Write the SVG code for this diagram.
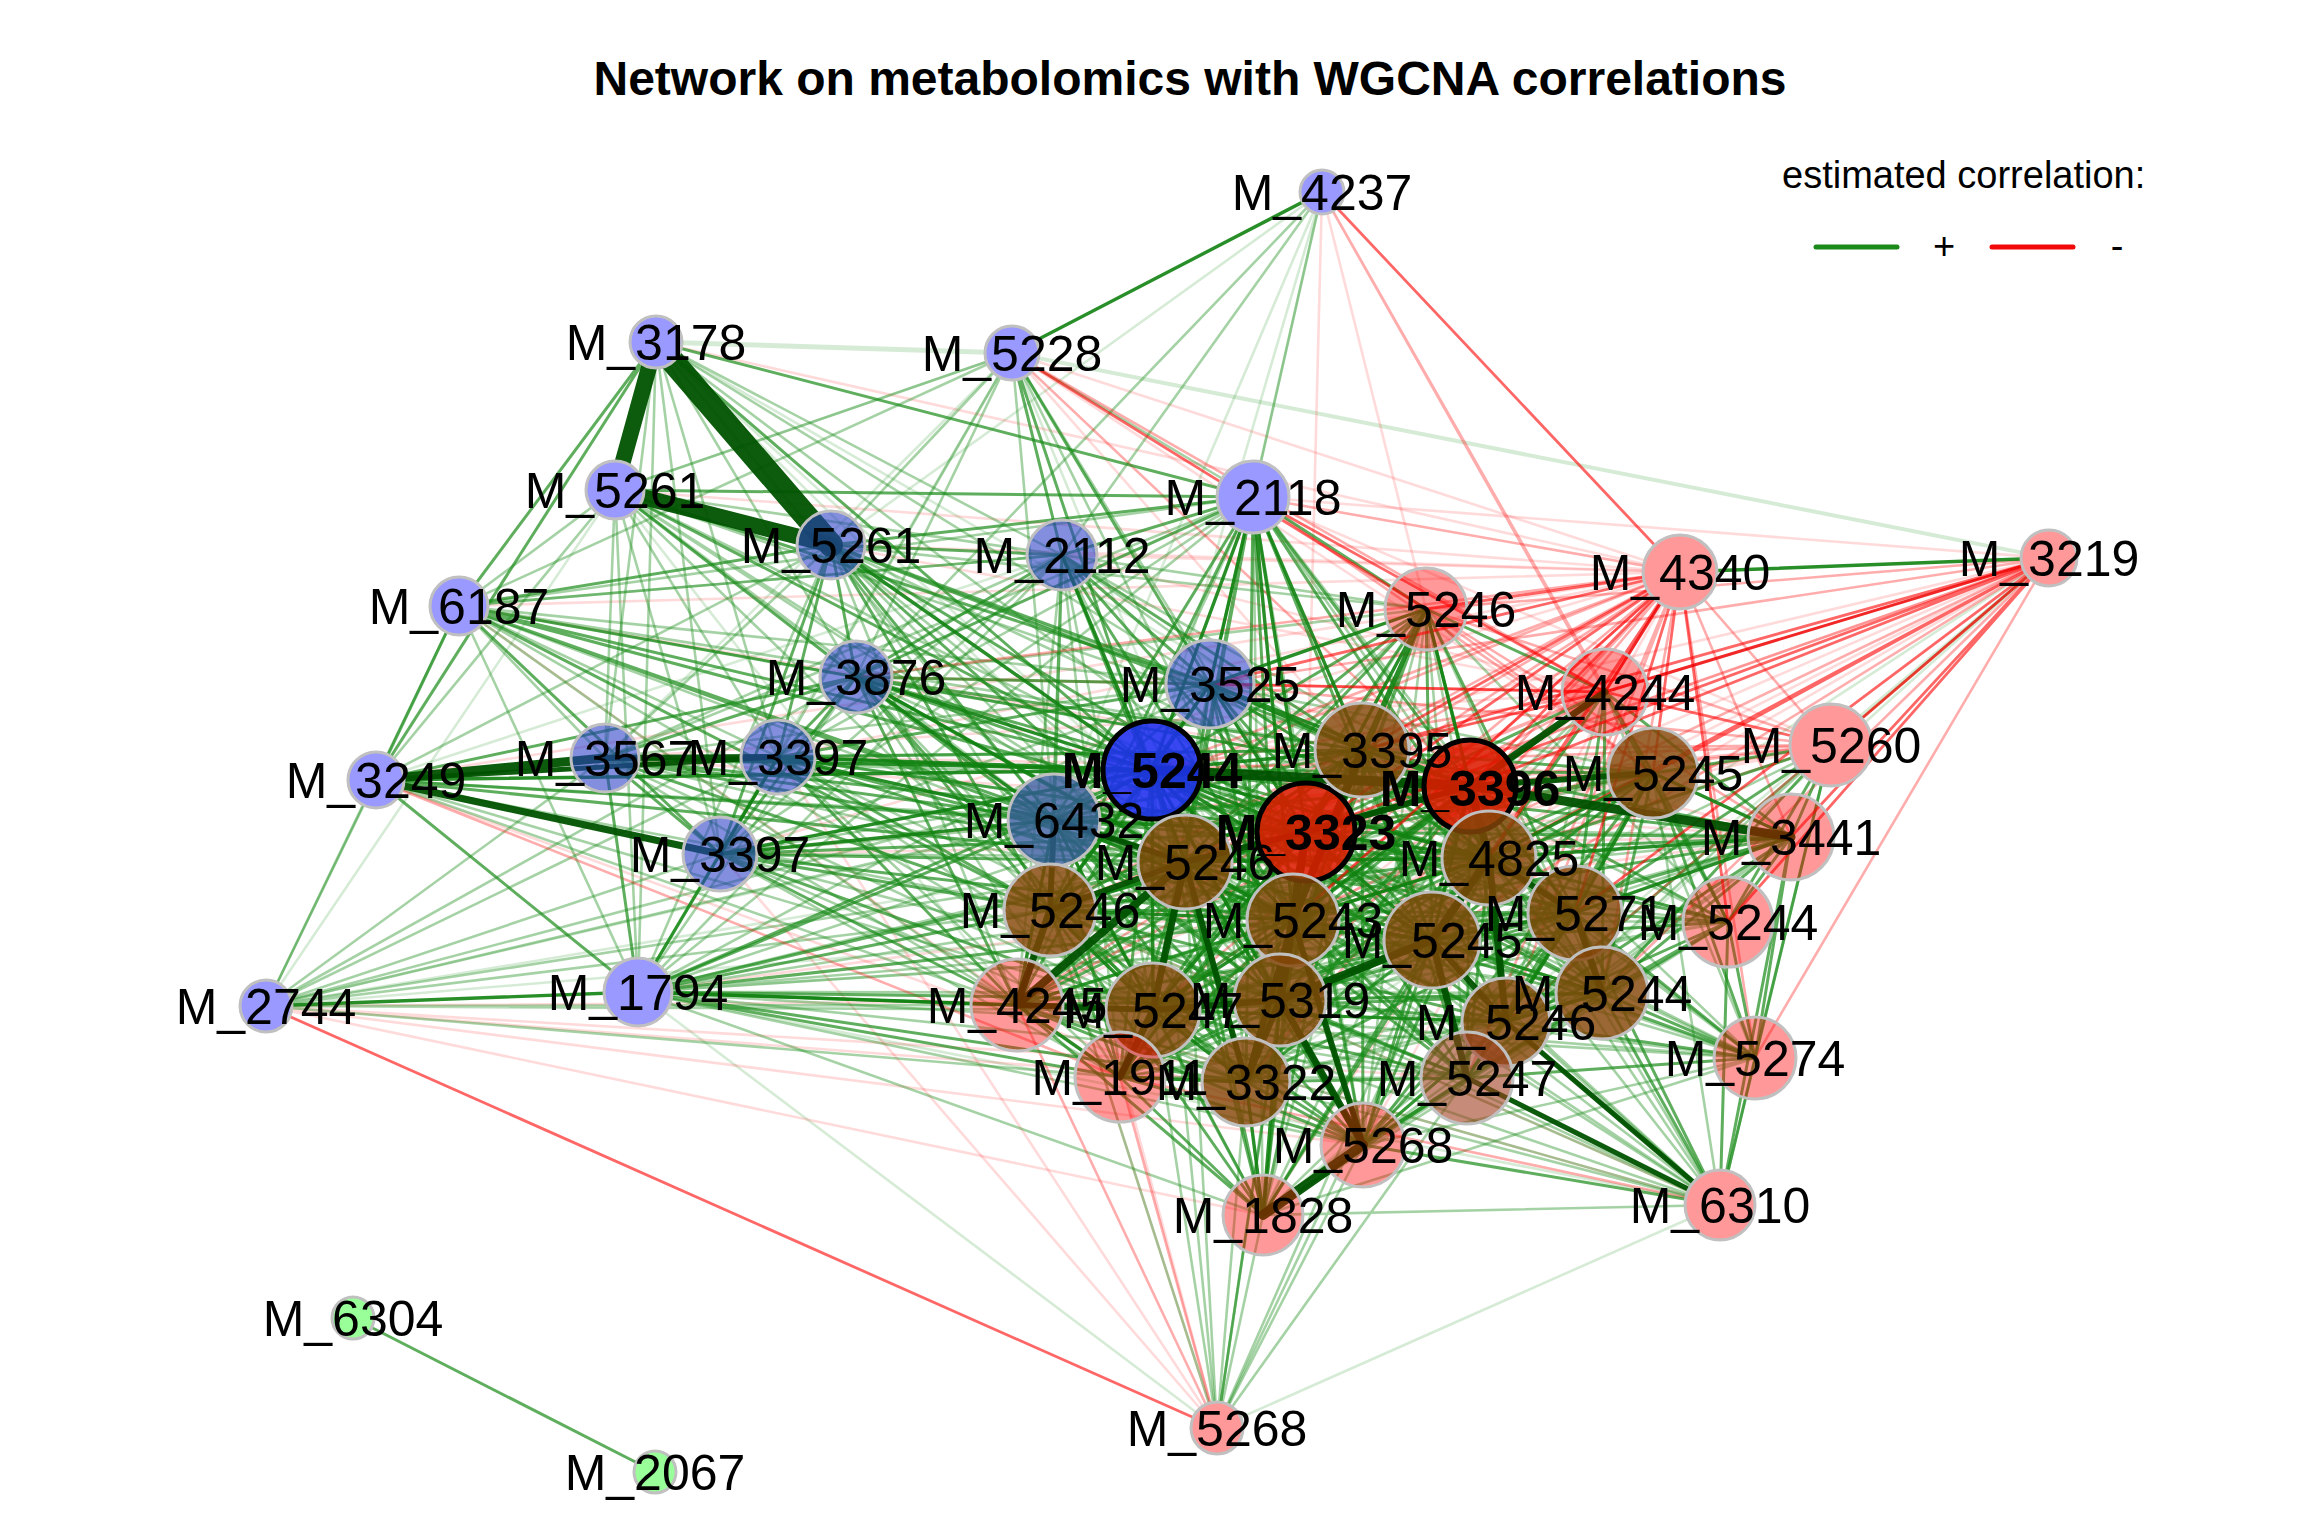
<svg xmlns="http://www.w3.org/2000/svg" width="2304" height="1536" viewBox="0 0 2304 1536">
<style>
text{font-family:"Liberation Sans",Arial,Helvetica,sans-serif;fill:#000}
.lb{font-size:50px;text-anchor:middle}
.bd{font-weight:bold}
#connectors path,#connectors line{fill:none;stroke-linecap:round}
.g1{stroke:#1e8f1e;stroke-opacity:.18;stroke-width:2.6}
.g2{stroke:#1e8f1e;stroke-opacity:.4;stroke-width:2.6}
.g3{stroke:#1a8c1a;stroke-opacity:.7;stroke-width:3}
.g4{stroke:#118211;stroke-opacity:.9;stroke-width:3.4}
.gt{stroke:#005200;stroke-opacity:.95}
.r1{stroke:#ff1a1a;stroke-opacity:.16;stroke-width:2.6}
.r2{stroke:#ff1a1a;stroke-opacity:.36;stroke-width:2.6}
.r3{stroke:#ff0000;stroke-opacity:.6;stroke-width:2.8}
.r4{stroke:#ee0000;stroke-opacity:.85;stroke-width:3}
.nbo{fill:#9999ff;stroke:#c0c0c0;stroke-width:3}
.npo{fill:#ff9999;stroke:#c0c0c0;stroke-width:3}
.ngo{fill:#99ff99;stroke:#c0c0c0;stroke-width:3}
.nm{fill:#2a3cc8;fill-opacity:.58;stroke:#c0c0c0;stroke-width:3}
.ns{fill:#34589c;fill-opacity:.78;stroke:#c0c0c0;stroke-width:3}
.nB{fill:#1e2ef0;fill-opacity:.88;stroke:#000;stroke-width:5}
.np{fill:#ff0000;fill-opacity:.4;stroke:#c0c0c0;stroke-width:3}
.nx{fill:#a0401f;fill-opacity:.6;stroke:#c0c0c0;stroke-width:3}
.nr{fill:#844508;fill-opacity:.82;stroke:#c0c0c0;stroke-width:3}
.nR{fill:#dd1a00;fill-opacity:.88;stroke:#000;stroke-width:5}
</style>
<rect width="2304" height="1536" fill="#fff"/>
<text x="1190" y="95" font-size="48" font-weight="bold" text-anchor="middle">Network on metabolomics with WGCNA correlations</text>
<g id="connectors">
<path class="g1" d="M1322 192L831 545M1322 192L1210 684M1322 192L1054 820M1322 192L1152 770"/>
<path class="g1" d="M656 342L1362 750M656 342L1185 862M656 342L1293 920"/>
<path class="g1" d="M1012 353L605 758M1012 353L638 992M1012 353L1280 1000"/>
<path class="g1" d="M615 490L266 1006M615 490L1280 1000M615 490L1017 1005M615 490L1012 353"/>
<path class="g1" d="M1062 555L376 780"/>
<path class="g1" d="M266 1006L1306 832M266 1006L1293 920M266 1006L1362 750"/>
<path class="g1" d="M638 992L1728 922M638 992L1720 1205M638 992L1217 1428"/>
<path class="g1" d="M2049 558L1263 1215M2049 558L1246 1082M2049 558L1467 1078"/>
<path class="g1" d="M1720 1205L1217 1428"/>
<path class="g1" style="stroke-width:5" d="M656 342L1012 353"/>
<path class="g1" style="stroke-width:4" d="M1012 353L2049 558"/>
<path class="r1" d="M1322 192L1306 832M1322 192L1426 609"/>
<path class="r1" d="M656 342L1680 572"/>
<path class="r1" d="M1012 353L1653 773M1012 353L1680 572M1012 353L1362 750"/>
<path class="r1" d="M615 490L1680 572"/>
<path class="r1" d="M831 545L1680 572M831 545L1605 692"/>
<path class="r1" d="M1253 497L1831 745M1253 497L2049 558"/>
<path class="r1" d="M1062 555L1680 572M1062 555L1605 692"/>
<path class="r1" d="M459 606L1680 572M459 606L1791 837M459 606L1120 1077"/>
<path class="r1" d="M1210 684L1791 837"/>
<path class="r1" d="M605 758L1605 692M605 758L1791 837"/>
<path class="r1" d="M778 757L1680 572M778 757L1653 773"/>
<path class="r1" d="M376 780L1363 1145M376 780L1680 572"/>
<path class="r1" d="M720 854L1680 572M720 854L1791 837M720 854L1831 745"/>
<path class="r1" d="M1152 770L2049 558"/>
<path class="r1" d="M1054 820L1605 692M1054 820L1831 745"/>
<path class="r1" d="M266 1006L1246 1082M266 1006L1263 1215M266 1006L1363 1145M266 1006L1280 1000M266 1006L1467 1078"/>
<path class="r1" d="M638 992L1791 837"/>
<path class="r1" d="M1680 572L1363 1145M1680 572L1263 1215"/>
<path class="r1" d="M2049 558L1050 910M2049 558L1017 1005M2049 558L1280 1000M2049 558L1153 1010"/>
<path class="r1" d="M1831 745L1185 862M1831 745L1050 910"/>
<path class="r1" d="M1605 692L1120 1077"/>
<path class="r1" d="M1217 1428L720 854M1217 1428L778 757M1217 1428L1050 910M1217 1428L1054 820"/>
<path class="r1" d="M1720 1205L1050 910M1720 1205L1017 1005"/>
<path class="g2" d="M1322 192L1062 555M1322 192L856 677M1322 192L1253 497"/>
<path class="g2" d="M656 342L856 677M656 342L1062 555M656 342L1210 684M656 342L1054 820M656 342L605 758M656 342L778 757M656 342L720 854M656 342L638 992M656 342L1306 832"/>
<path class="g2" d="M1012 353L856 677M1012 353L831 545M1012 353L615 490M1012 353L459 606M1012 353L1054 820M1012 353L778 757M1012 353L1253 497M1012 353L1306 832M1012 353L1293 920"/>
<path class="g2" d="M615 490L459 606M615 490L376 780M615 490L1062 555M615 490L1054 820M615 490L605 758M615 490L778 757M615 490L720 854M615 490L638 992M615 490L1362 750M615 490L1306 832M615 490L1185 862M615 490L1293 920M615 490L1050 910"/>
<path class="g2" d="M831 545L376 780M831 545L605 758M831 545L638 992M831 545L1293 920M831 545L1470 786M831 545L1426 609M831 545L1489 858M831 545L1153 1010M831 545L1280 1000M831 545L1017 1005"/>
<path class="g2" d="M1253 497L1017 1005M1253 497L1120 1077M1253 497L1363 1145M1253 497L1263 1215M1253 497L1575 913M1253 497L1602 993M1253 497L778 757M1253 497L720 854M1253 497L605 758M1253 497L638 992M1253 497L459 606"/>
<path class="g2" d="M1062 555L778 757M1062 555L720 854M1062 555L605 758M1062 555L459 606M1062 555L638 992M1062 555L1470 786M1062 555L1426 609M1062 555L1153 1010M1062 555L1280 1000M1062 555L1017 1005M1062 555L1120 1077M1062 555L1489 858"/>
<path class="g2" d="M459 606L605 758M459 606L778 757M459 606L638 992M459 606L266 1006M459 606L1210 684M459 606L1017 1005M459 606L1293 920M459 606L1153 1010M459 606L1362 750M459 606L1470 786M459 606L1062 555"/>
<path class="g2" d="M856 677L638 992M856 677L1432 940M856 677L1120 1077M856 677L1246 1082M856 677L1426 609M856 677L266 1006"/>
<path class="g2" d="M1210 684L1575 913M1210 684L1653 773M1210 684L1153 1010M1210 684L1602 993M1210 684L1246 1082M1210 684L1363 1145M1210 684L605 758M1210 684L720 854M1210 684L638 992"/>
<path class="g2" d="M605 758L266 1006M605 758L1293 920M605 758L1470 786M605 758L1017 1005M605 758L1153 1010M605 758L1362 750"/>
<path class="g2" d="M778 757L266 1006M778 757L1153 1010M778 757L1280 1000M778 757L1489 858M778 757L1120 1077"/>
<path class="g2" d="M376 780L266 1006M376 780L1050 910M376 780L1306 832M376 780L1017 1005M376 780L1153 1010"/>
<path class="g2" d="M720 854L266 1006M720 854L1280 1000M720 854L1470 786M720 854L1362 750M720 854L1489 858M720 854L1120 1077M720 854L1246 1082"/>
<path class="g2" d="M1152 770L1728 922M1152 770L1755 1058M1152 770L1720 1205M1152 770L1217 1428M1152 770L266 1006"/>
<path class="g2" d="M1054 820L1263 1215M1054 820L1575 913M1054 820L1602 993M1054 820L1653 773M1054 820L1791 837M1054 820L266 1006"/>
<path class="g2" d="M266 1006L1050 910M266 1006L1017 1005M266 1006L1185 862M266 1006L1153 1010M266 1006L1120 1077"/>
<path class="g2" d="M638 992L1362 750M638 992L1470 786M638 992L1489 858M638 992L1432 940M638 992L1506 1022M638 992L1467 1078M638 992L1363 1145M638 992L1263 1215M638 992L1602 993M638 992L1575 913M638 992L1755 1058"/>
<path class="g2" d="M2049 558L1363 1145"/>
<path class="g2" d="M1831 745L1506 1022M1831 745L1432 940M1831 745L1720 1205M1831 745L1467 1078M1831 745L1363 1145"/>
<path class="g2" d="M1605 692L1280 1000M1605 692L1506 1022M1605 692L1755 1058M1605 692L1246 1082"/>
<path class="g2" d="M1426 609L1017 1005M1426 609L1120 1077M1426 609L1467 1078M1426 609L1363 1145M1426 609L1263 1215M1426 609L1728 922M1426 609L1602 993M1426 609L1506 1022"/>
<path class="g2" d="M1362 750L1728 922M1362 750L1755 1058M1362 750L1720 1205"/>
<path class="g2" d="M1470 786L1755 1058M1470 786L1720 1205M1470 786L1263 1215"/>
<path class="g2" d="M1653 773L1050 910M1653 773L1153 1010M1653 773L1720 1205M1653 773L1246 1082"/>
<path class="g2" d="M1306 832L1755 1058M1306 832L1720 1205M1306 832L1217 1428"/>
<path class="g2" d="M1791 837L1467 1078M1791 837L1363 1145M1791 837L1153 1010M1791 837L1050 910M1791 837L1280 1000"/>
<path class="g2" d="M1489 858L1755 1058M1489 858L1720 1205M1489 858L1217 1428"/>
<path class="g2" d="M1185 862L1728 922M1185 862L1755 1058M1185 862L1720 1205M1185 862L1217 1428"/>
<path class="g2" d="M1050 910L1602 993M1050 910L1217 1428M1050 910L1720 1205"/>
<path class="g2" d="M1293 920L1728 922M1293 920L1755 1058M1293 920L1720 1205M1293 920L1217 1428"/>
<path class="g2" d="M1432 940L1720 1205M1432 940L1217 1428"/>
<path class="g2" d="M1575 913L1120 1077M1575 913L1263 1215M1575 913L1017 1005"/>
<path class="g2" d="M1728 922L1363 1145M1728 922L1280 1000M1728 922L1153 1010M1728 922L1263 1215"/>
<path class="g2" d="M1017 1005L1602 993M1017 1005L1467 1078M1017 1005L1720 1205"/>
<path class="g2" d="M1153 1010L1720 1205M1153 1010L1755 1058M1153 1010L1217 1428"/>
<path class="g2" d="M1280 1000L1720 1205M1280 1000L1755 1058M1280 1000L1217 1428"/>
<path class="g2" d="M1602 993L1263 1215M1602 993L1120 1077M1602 993L1246 1082"/>
<path class="g2" d="M1506 1022L1263 1215M1506 1022L1246 1082M1506 1022L1120 1077"/>
<path class="g2" d="M1755 1058L1363 1145M1755 1058L1263 1215"/>
<path class="g2" d="M1120 1077L1467 1078M1246 1082L1720 1205M1246 1082L1217 1428M1467 1078L1217 1428M1363 1145L1217 1428M1263 1215L1720 1205M1263 1215L1217 1428"/>
<path class="r2" d="M1322 192L1605 692M1322 192L1653 773"/>
<path class="r2" d="M1012 353L1605 692M1012 353L1470 786"/>
<path class="r2" d="M1253 497L1680 572M1253 497L1653 773"/>
<path class="r2" d="M856 677L1680 572M856 677L1605 692"/>
<path class="r2" d="M1210 684L1831 745M1210 684L2049 558"/>
<path class="r2" d="M376 780L1120 1077"/>
<path class="r2" d="M1152 770L1680 572M1152 770L1605 692M1152 770L1831 745"/>
<path class="r2" d="M1054 820L1680 572"/>
<path class="r2" d="M1680 572L1791 837M1680 572L1831 745M1680 572L1185 862M1680 572L1050 910M1680 572L1017 1005M1680 572L1153 1010M1680 572L1280 1000M1680 572L1602 993M1680 572L1506 1022M1680 572L1755 1058M1680 572L1120 1077M1680 572L1246 1082M1680 572L1467 1078"/>
<path class="r2" d="M2049 558L1426 609M2049 558L1293 920M2049 558L1432 940M2049 558L1185 862M2049 558L1602 993M2049 558L1506 1022M2049 558L1755 1058"/>
<path class="r2" d="M1831 745L1426 609M1831 745L1362 750M1831 745L1470 786M1831 745L1306 832M1831 745L1293 920"/>
<path class="r2" d="M1605 692L1185 862M1605 692L1050 910M1605 692L1153 1010M1605 692L1017 1005"/>
<path class="r2" d="M1426 609L1653 773M1426 609L1791 837"/>
<path class="r2" d="M1217 1428L1017 1005M1217 1428L1120 1077M1720 1205L1120 1077"/>
<path class="g3" d="M656 342L1253 497M656 342L459 606M656 342L376 780M656 342L1152 770"/>
<path class="g3" d="M1012 353L1062 555M1012 353L1210 684M1012 353L1152 770"/>
<path class="g3" d="M615 490L1253 497M615 490L856 677M615 490L1210 684M615 490L1152 770"/>
<path class="g3" d="M831 545L1062 555M831 545L1253 497M831 545L459 606M831 545L856 677M831 545L1210 684M831 545L1054 820M831 545L778 757M831 545L720 854M831 545L1362 750M831 545L1306 832M831 545L1185 862M831 545L1050 910"/>
<path class="g3" d="M1253 497L1062 555M1253 497L1054 820M1253 497L856 677M1253 497L1426 609M1253 497L1470 786M1253 497L1489 858M1253 497L1185 862M1253 497L1050 910M1253 497L1432 940M1253 497L1153 1010M1253 497L1280 1000M1253 497L1246 1082"/>
<path class="g3" d="M1062 555L856 677M1062 555L1210 684M1062 555L1054 820M1062 555L1362 750M1062 555L1306 832M1062 555L1185 862M1062 555L1050 910M1062 555L1293 920"/>
<path class="g3" d="M459 606L376 780M459 606L720 854M459 606L856 677M459 606L1152 770M459 606L1054 820M459 606L1185 862M459 606L1050 910M459 606L1306 832"/>
<path class="g3" d="M856 677L778 757M856 677L605 758M856 677L720 854M856 677L376 780M856 677L1210 684M856 677L1050 910M856 677L1306 832M856 677L1293 920M856 677L1362 750M856 677L1470 786M856 677L1489 858M856 677L1153 1010M856 677L1017 1005M856 677L1280 1000"/>
<path class="g3" d="M1210 684L1054 820M1210 684L1489 858M1210 684L1185 862M1210 684L1293 920M1210 684L1432 940M1210 684L1050 910M1210 684L1280 1000M1210 684L778 757"/>
<path class="g3" d="M605 758L720 854M605 758L638 992M605 758L1054 820M605 758L1185 862M605 758L1050 910M605 758L1306 832"/>
<path class="g3" d="M778 757L638 992M778 757L1185 862M778 757L1050 910M778 757L1306 832M778 757L1293 920M778 757L1362 750M778 757L1470 786M778 757L1017 1005"/>
<path class="g3" d="M376 780L1054 820M376 780L638 992M376 780L1185 862"/>
<path class="g3" d="M720 854L638 992M720 854L1185 862M720 854L1050 910M720 854L1306 832M720 854L1293 920M720 854L1017 1005M720 854L1153 1010"/>
<path class="g3" d="M1152 770L1575 913M1152 770L1017 1005M1152 770L1120 1077M1152 770L1246 1082M1152 770L1467 1078M1152 770L1363 1145M1152 770L1263 1215M1152 770L1602 993M1152 770L1506 1022M1152 770L1653 773M1152 770L1791 837M1152 770L1426 609M1152 770L638 992"/>
<path class="g3" d="M1054 820L1362 750M1054 820L1470 786M1054 820L1489 858M1054 820L1432 940M1054 820L1280 1000M1054 820L1120 1077M1054 820L1246 1082M1054 820L1363 1145M1054 820L638 992"/>
<path class="g3" d="M638 992L1050 910M638 992L1185 862M638 992L1153 1010M638 992L1120 1077M638 992L1306 832M638 992L1293 920M638 992L1280 1000M638 992L1246 1082"/>
<path class="g3" d="M353 1318L655 1472"/>
<path class="g3" d="M1831 745L1489 858M1831 745L1653 773M1831 745L1791 837M1831 745L1575 913M1831 745L1728 922M1831 745L1602 993M1831 745L1755 1058"/>
<path class="g3" d="M1605 692L1426 609M1605 692L1653 773M1605 692L1489 858M1605 692L1306 832M1605 692L1293 920M1605 692L1432 940M1605 692L1575 913M1605 692L1728 922M1605 692L1791 837M1605 692L1602 993"/>
<path class="g3" d="M1426 609L1489 858M1426 609L1185 862M1426 609L1432 940M1426 609L1575 913M1426 609L1050 910M1426 609L1153 1010M1426 609L1280 1000M1426 609L1246 1082"/>
<path class="g3" d="M1362 750L1432 940M1362 750L1575 913M1362 750L1153 1010M1362 750L1246 1082M1362 750L1363 1145M1362 750L1263 1215M1362 750L1050 910M1362 750L1017 1005M1362 750L1120 1077M1362 750L1602 993M1362 750L1506 1022M1362 750L1467 1078M1362 750L1653 773M1362 750L1791 837"/>
<path class="g3" d="M1470 786L1602 993M1470 786L1506 1022M1470 786L1728 922M1470 786L1280 1000M1470 786L1153 1010M1470 786L1050 910M1470 786L1246 1082M1470 786L1467 1078M1470 786L1363 1145M1470 786L1017 1005M1470 786L1120 1077"/>
<path class="g3" d="M1653 773L1306 832M1653 773L1293 920M1653 773L1432 940M1653 773L1602 993M1653 773L1506 1022M1653 773L1728 922M1653 773L1185 862M1653 773L1280 1000M1653 773L1755 1058M1653 773L1467 1078M1653 773L1363 1145"/>
<path class="g3" d="M1306 832L1575 913M1306 832L1246 1082M1306 832L1120 1077M1306 832L1017 1005M1306 832L1363 1145M1306 832L1263 1215M1306 832L1506 1022M1306 832L1602 993M1306 832L1467 1078M1306 832L1728 922M1306 832L1791 837"/>
<path class="g3" d="M1791 837L1728 922M1791 837L1602 993M1791 837L1432 940M1791 837L1293 920M1791 837L1506 1022M1791 837L1755 1058M1791 837L1720 1205M1791 837L1185 862"/>
<path class="g3" d="M1489 858L1602 993M1489 858L1280 1000M1489 858L1153 1010M1489 858L1246 1082M1489 858L1467 1078M1489 858L1363 1145M1489 858L1050 910M1489 858L1728 922M1489 858L1017 1005M1489 858L1120 1077M1489 858L1263 1215"/>
<path class="g3" d="M1185 862L1432 940M1185 862L1120 1077M1185 862L1246 1082M1185 862L1575 913M1185 862L1506 1022M1185 862L1363 1145M1185 862L1263 1215M1185 862L1467 1078M1185 862L1602 993"/>
<path class="g3" d="M1050 910L1120 1077M1050 910L1280 1000M1050 910L1246 1082M1050 910L1432 940M1050 910L1363 1145M1050 910L1263 1215M1050 910L1506 1022M1050 910L1467 1078M1050 910L1575 913"/>
<path class="g3" d="M1293 920L1575 913M1293 920L1506 1022M1293 920L1467 1078M1293 920L1363 1145M1293 920L1263 1215M1293 920L1120 1077M1293 920L1017 1005M1293 920L1602 993"/>
<path class="g3" d="M1432 940L1602 993M1432 940L1153 1010M1432 940L1246 1082M1432 940L1363 1145M1432 940L1263 1215M1432 940L1728 922M1432 940L1755 1058M1432 940L1120 1077M1432 940L1017 1005"/>
<path class="g3" d="M1575 913L1728 922M1575 913L1280 1000M1575 913L1467 1078M1575 913L1363 1145M1575 913L1755 1058M1575 913L1720 1205M1575 913L1153 1010M1575 913L1246 1082"/>
<path class="g3" d="M1728 922L1602 993M1728 922L1755 1058M1728 922L1720 1205M1728 922L1506 1022M1728 922L1467 1078"/>
<path class="g3" d="M1017 1005L1280 1000M1017 1005L1246 1082M1017 1005L1263 1215M1017 1005L1363 1145M1017 1005L1506 1022"/>
<path class="g3" d="M1153 1010L1263 1215M1153 1010L1363 1145M1153 1010L1506 1022M1153 1010L1467 1078M1153 1010L1602 993"/>
<path class="g3" d="M1280 1000L1506 1022M1280 1000L1467 1078M1280 1000L1602 993M1280 1000L1120 1077"/>
<path class="g3" d="M1602 993L1467 1078M1602 993L1755 1058M1602 993L1720 1205M1602 993L1363 1145"/>
<path class="g3" d="M1506 1022L1467 1078M1506 1022L1720 1205M1506 1022L1363 1145M1506 1022L1755 1058"/>
<path class="g3" d="M1755 1058L1720 1205M1755 1058L1467 1078M1120 1077L1263 1215M1120 1077L1363 1145M1246 1082L1363 1145M1246 1082L1467 1078M1467 1078L1363 1145M1467 1078L1263 1215M1363 1145L1720 1205"/>
<path class="r3" d="M1322 192L1680 572"/>
<path class="r3" d="M1012 353L1426 609"/>
<path class="r3" d="M1253 497L1605 692"/>
<path class="r3" d="M1210 684L1680 572M1210 684L1605 692"/>
<path class="r3" d="M266 1006L1217 1428"/>
<path class="r3" d="M1680 572L1426 609M1680 572L1362 750M1680 572L1470 786M1680 572L1653 773M1680 572L1306 832M1680 572L1489 858M1680 572L1293 920M1680 572L1432 940M1680 572L1575 913M1680 572L1728 922"/>
<path class="r3" d="M2049 558L1362 750M2049 558L1470 786M2049 558L1653 773M2049 558L1306 832M2049 558L1489 858M2049 558L1575 913M2049 558L1728 922M2049 558L1791 837M2049 558L1831 745"/>
<path class="r3" d="M1831 745L1605 692M1605 692L1362 750"/>
<path class="g4" d="M1322 192L1012 353"/>
<path class="g4" d="M831 545L1152 770M1062 555L1152 770M605 758L1152 770M376 780L1152 770"/>
<path class="g4" d="M1253 497L1210 684M1253 497L1152 770M1253 497L1362 750M1253 497L1306 832M1253 497L1293 920"/>
<path class="g4" d="M856 677L1152 770M856 677L1054 820M856 677L1185 862"/>
<path class="g4" d="M1210 684L1152 770M1210 684L1426 609M1210 684L1362 750M1210 684L1470 786M1210 684L1306 832"/>
<path class="g4" d="M778 757L720 854M778 757L1152 770M778 757L1054 820M720 854L1152 770M720 854L1054 820"/>
<path class="g4" d="M1152 770L1362 750M1152 770L1306 832M1152 770L1489 858M1152 770L1185 862M1152 770L1050 910M1152 770L1293 920M1152 770L1432 940M1152 770L1153 1010M1152 770L1280 1000M1152 770L1054 820"/>
<path class="g4" d="M1054 820L1050 910M1054 820L1306 832M1054 820L1293 920M1054 820L1017 1005M1054 820L1153 1010"/>
<path class="g4" d="M266 1006L638 992M638 992L1017 1005"/>
<path class="g4" d="M1680 572L2049 558"/>
<path class="g4" d="M1426 609L1362 750M1426 609L1470 786M1426 609L1306 832M1426 609L1293 920"/>
<path class="g4" d="M1362 750L1306 832M1362 750L1470 786M1362 750L1185 862M1362 750L1293 920M1362 750L1489 858M1362 750L1280 1000"/>
<path class="g4" d="M1470 786L1489 858M1470 786L1575 913M1470 786L1293 920M1470 786L1432 940M1470 786L1185 862"/>
<path class="g4" d="M1653 773L1791 837M1653 773L1489 858M1653 773L1575 913"/>
<path class="g4" d="M1306 832L1489 858M1306 832L1432 940M1306 832L1280 1000M1306 832L1153 1010M1306 832L1050 910"/>
<path class="g4" d="M1791 837L1489 858M1791 837L1575 913"/>
<path class="g4" d="M1489 858L1432 940M1489 858L1293 920M1489 858L1185 862M1489 858L1506 1022"/>
<path class="g4" d="M1185 862L1293 920M1185 862L1153 1010M1185 862L1280 1000"/>
<path class="g4" d="M1050 910L1017 1005M1050 910L1153 1010M1050 910L1293 920"/>
<path class="g4" d="M1293 920L1280 1000M1293 920L1432 940M1293 920L1153 1010"/>
<path class="g4" d="M1432 940L1575 913M1432 940L1280 1000M1432 940L1467 1078"/>
<path class="g4" d="M1575 913L1602 993M1575 913L1506 1022M1602 993L1506 1022"/>
<path class="g4" d="M1017 1005L1120 1077M1153 1010L1120 1077M1153 1010L1246 1082M1280 1000L1363 1145M1280 1000L1263 1215M1120 1077L1246 1082M1246 1082L1263 1215"/>
<path class="r4" d="M1680 572L1605 692M2049 558L1605 692"/>
<line class="gt" style="stroke-width:16" x1="656" y1="342" x2="615" y2="490"/>
<line class="gt" style="stroke-width:24" x1="656" y1="342" x2="831" y2="545"/>
<line class="gt" style="stroke-width:16" x1="615" y1="490" x2="831" y2="545"/>
<line class="gt" style="stroke-width:9" x1="605" y1="758" x2="376" y2="780"/>
<line class="gt" style="stroke-width:6" x1="605" y1="758" x2="778" y2="757"/>
<line class="gt" style="stroke-width:7" x1="376" y1="780" x2="720" y2="854"/>
<line class="gt" style="stroke-width:5" x1="376" y1="780" x2="778" y2="757"/>
<line class="gt" style="stroke-width:10" x1="1152" y1="770" x2="1470" y2="786"/>
<line class="gt" style="stroke-width:6" x1="1054" y1="820" x2="1185" y2="862"/>
<line class="gt" style="stroke-width:6" x1="1054" y1="820" x2="1050" y2="910"/>
<line class="gt" style="stroke-width:7" x1="1605" y1="692" x2="1470" y2="786"/>
<line class="gt" style="stroke-width:9" x1="1470" y1="786" x2="1791" y2="837"/>
<line class="gt" style="stroke-width:6" x1="1470" y1="786" x2="1306" y2="832"/>
<line class="gt" style="stroke-width:6" x1="1470" y1="786" x2="1653" y2="773"/>
<line class="gt" style="stroke-width:8" x1="1470" y1="786" x2="1489" y2="858"/>
<line class="gt" style="stroke-width:8" x1="1306" y1="832" x2="1293" y2="920"/>
<line class="gt" style="stroke-width:6" x1="1306" y1="832" x2="1185" y2="862"/>
<line class="gt" style="stroke-width:8" x1="1306" y1="832" x2="1280" y2="1000"/>
<line class="gt" style="stroke-width:8" x1="1362" y1="750" x2="1293" y2="920"/>
<line class="gt" style="stroke-width:6" x1="1489" y1="858" x2="1575" y2="913"/>
<line class="gt" style="stroke-width:8" x1="1489" y1="858" x2="1432" y2="940"/>
<line class="gt" style="stroke-width:7" x1="1489" y1="858" x2="1506" y2="1022"/>
<line class="gt" style="stroke-width:6" x1="1185" y1="862" x2="1050" y2="910"/>
<line class="gt" style="stroke-width:8" x1="1185" y1="862" x2="1017" y2="1005"/>
<line class="gt" style="stroke-width:7" x1="1185" y1="862" x2="1153" y2="1010"/>
<line class="gt" style="stroke-width:6" x1="1185" y1="862" x2="1246" y2="1082"/>
<line class="gt" style="stroke-width:7" x1="1050" y1="910" x2="1017" y2="1005"/>
<line class="gt" style="stroke-width:6" x1="1293" y1="920" x2="1246" y2="1082"/>
<line class="gt" style="stroke-width:8" x1="1293" y1="920" x2="1280" y2="1000"/>
<line class="gt" style="stroke-width:6" x1="1293" y1="920" x2="1363" y2="1145"/>
<line class="gt" style="stroke-width:8" x1="1432" y1="940" x2="1280" y2="1000"/>
<line class="gt" style="stroke-width:6" x1="1432" y1="940" x2="1506" y2="1022"/>
<line class="gt" style="stroke-width:7" x1="1432" y1="940" x2="1467" y2="1078"/>
<line class="gt" style="stroke-width:7" x1="1575" y1="913" x2="1602" y2="993"/>
<line class="gt" style="stroke-width:6" x1="1017" y1="1005" x2="1153" y2="1010"/>
<line class="gt" style="stroke-width:6" x1="1153" y1="1010" x2="1280" y2="1000"/>
<line class="gt" style="stroke-width:7" x1="1153" y1="1010" x2="1120" y2="1077"/>
<line class="gt" style="stroke-width:6" x1="1280" y1="1000" x2="1246" y2="1082"/>
<line class="gt" style="stroke-width:7" x1="1280" y1="1000" x2="1363" y2="1145"/>
<line class="gt" style="stroke-width:5" x1="1467" y1="1078" x2="1720" y2="1205"/>
<line class="gt" style="stroke-width:5" x1="1506" y1="1022" x2="1720" y2="1205"/>
<line class="gt" style="stroke-width:10" x1="1363" y1="1145" x2="1263" y2="1215"/>
</g>
<g id="nodes">
<g id="node-M_4237"><circle class="nbo" cx="1322" cy="192" r="22"/></g>
<g id="node-M_3178"><circle class="nbo" cx="656" cy="342" r="26"/></g>
<g id="node-M_5228"><circle class="nbo" cx="1012" cy="353" r="27"/></g>
<g id="node-M_5261-a"><circle class="nbo" cx="615" cy="490" r="29"/></g>
<g id="node-M_5261-b"><circle class="nm" cx="831" cy="545" r="34"/></g>
<g id="node-M_2118"><circle class="nbo" cx="1253" cy="497" r="36"/></g>
<g id="node-M_2112"><circle class="nm" cx="1062" cy="555" r="35"/></g>
<g id="node-M_6187"><circle class="nbo" cx="459" cy="606" r="29"/></g>
<g id="node-M_3876"><circle class="nm" cx="856" cy="677" r="36"/></g>
<g id="node-M_3525"><circle class="nm" cx="1210" cy="684" r="44"/></g>
<g id="node-M_3567"><circle class="nm" cx="605" cy="758" r="34"/></g>
<g id="node-M_3397-a"><circle class="nm" cx="778" cy="757" r="37"/></g>
<g id="node-M_3249"><circle class="nbo" cx="376" cy="780" r="28"/></g>
<g id="node-M_3397-b"><circle class="nm" cx="720" cy="854" r="37"/></g>
<g id="node-M_6432"><circle class="ns" cx="1054" cy="820" r="46"/></g>
<g id="node-M_2744"><circle class="nbo" cx="266" cy="1006" r="26"/></g>
<g id="node-M_1794"><circle class="nbo" cx="638" cy="992" r="34"/></g>
<g id="node-M_6304"><circle class="ngo" cx="353" cy="1318" r="21"/></g>
<g id="node-M_2067"><circle class="ngo" cx="655" cy="1472" r="21"/></g>
<g id="node-M_5244-a"><circle class="nB" cx="1152" cy="770" r="49"/></g>
<g id="node-M_3323"><circle class="nR" cx="1306" cy="832" r="49"/></g>
<g id="node-M_3396"><circle class="nR" cx="1470" cy="786" r="46"/></g>
<g id="node-M_4340"><circle class="npo" cx="1680" cy="572" r="37"/></g>
<g id="node-M_3219"><circle class="npo" cx="2049" cy="558" r="28"/></g>
<g id="node-M_5246-a"><circle class="np" cx="1426" cy="609" r="41"/></g>
<g id="node-M_4244"><circle class="np" cx="1605" cy="692" r="43"/></g>
<g id="node-M_3395"><circle class="nr" cx="1362" cy="750" r="47"/></g>
<g id="node-M_5245-a"><circle class="nr" cx="1653" cy="773" r="45"/></g>
<g id="node-M_5260"><circle class="npo" cx="1831" cy="745" r="41"/></g>
<g id="node-M_3441"><circle class="np" cx="1791" cy="837" r="43"/></g>
<g id="node-M_4825"><circle class="nr" cx="1489" cy="858" r="47"/></g>
<g id="node-M_5246-b"><circle class="nr" cx="1185" cy="862" r="47"/></g>
<g id="node-M_5246-c"><circle class="nr" cx="1050" cy="910" r="46"/></g>
<g id="node-M_5243"><circle class="nr" cx="1293" cy="920" r="46"/></g>
<g id="node-M_5245-b"><circle class="nr" cx="1432" cy="940" r="48"/></g>
<g id="node-M_5271"><circle class="nr" cx="1575" cy="913" r="47"/></g>
<g id="node-M_5244-b"><circle class="np" cx="1728" cy="922" r="45"/></g>
<g id="node-M_4245"><circle class="np" cx="1017" cy="1005" r="46"/></g>
<g id="node-M_5247-a"><circle class="nr" cx="1153" cy="1010" r="47"/></g>
<g id="node-M_5319"><circle class="nr" cx="1280" cy="1000" r="46"/></g>
<g id="node-M_5244-c"><circle class="nr" cx="1602" cy="993" r="46"/></g>
<g id="node-M_5246-d"><circle class="nr" cx="1506" cy="1022" r="44"/></g>
<g id="node-M_5274"><circle class="np" cx="1755" cy="1058" r="41"/></g>
<g id="node-M_1911"><circle class="np" cx="1120" cy="1077" r="45"/></g>
<g id="node-M_3322"><circle class="nr" cx="1246" cy="1082" r="44"/></g>
<g id="node-M_5247-b"><circle class="nx" cx="1467" cy="1078" r="46"/></g>
<g id="node-M_5268-a"><circle class="np" cx="1363" cy="1145" r="42"/></g>
<g id="node-M_1828"><circle class="np" cx="1263" cy="1215" r="40"/></g>
<g id="node-M_6310"><circle class="npo" cx="1720" cy="1205" r="35"/></g>
<g id="node-M_5268-b"><circle class="npo" cx="1217" cy="1428" r="26"/></g>
</g>
<g id="labels">
<text class="lb" x="1322" y="210">M_4237</text>
<text class="lb" x="656" y="360">M_3178</text>
<text class="lb" x="1012" y="371">M_5228</text>
<text class="lb" x="615" y="508">M_5261</text>
<text class="lb" x="831" y="563">M_5261</text>
<text class="lb" x="1253" y="515">M_2118</text>
<text class="lb" x="1062" y="573">M_2112</text>
<text class="lb" x="459" y="624">M_6187</text>
<text class="lb" x="856" y="695">M_3876</text>
<text class="lb" x="1210" y="702">M_3525</text>
<text class="lb" x="605" y="776">M_3567</text>
<text class="lb" x="778" y="775">M_3397</text>
<text class="lb" x="376" y="798">M_3249</text>
<text class="lb" x="720" y="872">M_3397</text>
<text class="lb" x="1054" y="838">M_6432</text>
<text class="lb" x="266" y="1024">M_2744</text>
<text class="lb" x="638" y="1010">M_1794</text>
<text class="lb" x="353" y="1336">M_6304</text>
<text class="lb" x="655" y="1490">M_2067</text>
<text class="lb bd" x="1152" y="788">M_5244</text>
<text class="lb bd" x="1306" y="850">M_3323</text>
<text class="lb bd" x="1470" y="806">M_3396</text>
<text class="lb" x="1680" y="590">M_4340</text>
<text class="lb" x="2049" y="576">M_3219</text>
<text class="lb" x="1426" y="627">M_5246</text>
<text class="lb" x="1605" y="710">M_4244</text>
<text class="lb" x="1362" y="768">M_3395</text>
<text class="lb" x="1653" y="791">M_5245</text>
<text class="lb" x="1831" y="763">M_5260</text>
<text class="lb" x="1791" y="855">M_3441</text>
<text class="lb" x="1489" y="876">M_4825</text>
<text class="lb" x="1185" y="880">M_5246</text>
<text class="lb" x="1050" y="928">M_5246</text>
<text class="lb" x="1293" y="938">M_5243</text>
<text class="lb" x="1432" y="958">M_5245</text>
<text class="lb" x="1575" y="931">M_5271</text>
<text class="lb" x="1728" y="940">M_5244</text>
<text class="lb" x="1017" y="1023">M_4245</text>
<text class="lb" x="1153" y="1028">M_5247</text>
<text class="lb" x="1280" y="1018">M_5319</text>
<text class="lb" x="1602" y="1011">M_5244</text>
<text class="lb" x="1506" y="1040">M_5246</text>
<text class="lb" x="1755" y="1076">M_5274</text>
<text class="lb" x="1120" y="1095">M_1911</text>
<text class="lb" x="1246" y="1100">M_3322</text>
<text class="lb" x="1467" y="1096">M_5247</text>
<text class="lb" x="1363" y="1163">M_5268</text>
<text class="lb" x="1263" y="1233">M_1828</text>
<text class="lb" x="1720" y="1223">M_6310</text>
<text class="lb" x="1217" y="1446">M_5268</text>
</g>
<g id="legend">
<text x="1782" y="188" font-size="38">estimated correlation:</text>
<line x1="1816" y1="247" x2="1897" y2="247" stroke="#1a8a1a" stroke-width="5" stroke-linecap="round"/>
<text x="1944" y="259" font-size="38" text-anchor="middle">+</text>
<line x1="1992" y1="247" x2="2073" y2="247" stroke="#f20a0a" stroke-width="5" stroke-linecap="round"/>
<text x="2117" y="259" font-size="38" text-anchor="middle">-</text>
</g>
</svg>
